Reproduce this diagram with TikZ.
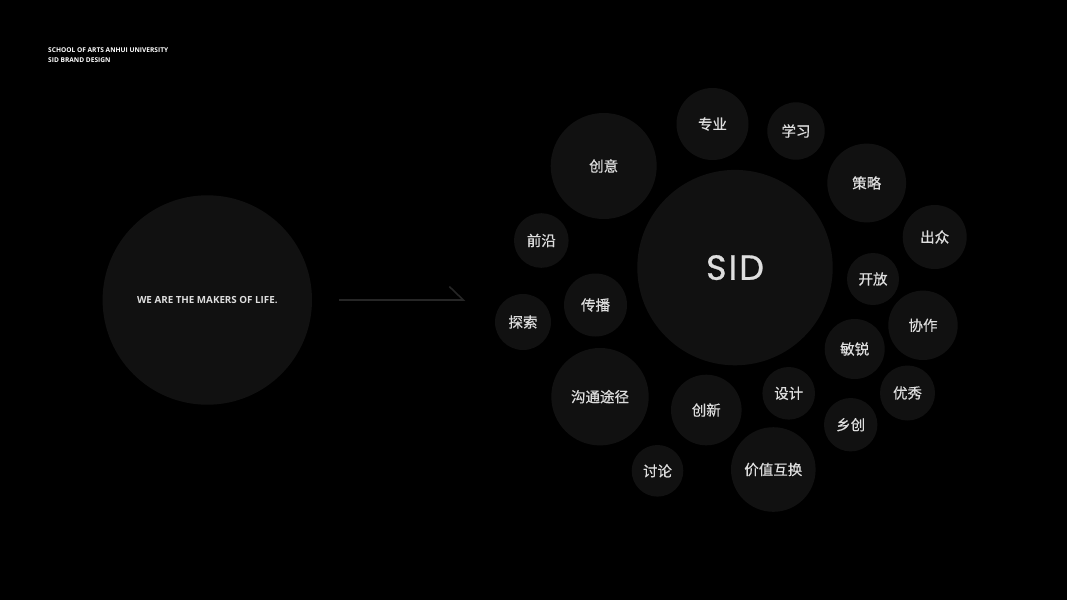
\documentclass[tikz,border=0pt]{standalone}
\usepackage{fontspec}
\setmainfont{Open Sans}
\newfontfamily\cjk[FakeBold=0.5]{Noto Sans CJK SC}
\newfontfamily\geo[FakeBold=0.8]{Poppins}
\usepackage{xcolor}
\definecolor{bubblegray}{RGB}{17,17,17}
\definecolor{labelgray}{RGB}{222,222,222}
\definecolor{arrowgray}{RGB}{38,38,38}
\usepackage{tikz}

\begin{document}
\begin{tikzpicture}[x=1pt, y=-1pt,
  bubble/.style={circle, fill=bubblegray, inner sep=0pt, outer sep=0pt,
    text=labelgray, font=\cjk\fontsize{14.5}{14.5}\selectfont}]
  \fill[black] (0,0) rectangle (1067,600);
  \useasboundingbox (0,0) rectangle (1067,600);
  % header
  \node[anchor=base west, inner sep=0pt, text=white, font=\bfseries\fontsize{6.6}{6.6}\selectfont] (school) at (48,52.3) {SCHOOL OF ARTS ANHUI UNIVERSITY};
  \node[anchor=base west, inner sep=0pt, text=white, font=\bfseries\fontsize{6.6}{6.6}\selectfont] (brand) at (48,62.3) {SID BRAND DESIGN};
  % left circle
  \node[bubble, minimum size=209.4pt, font=\bfseries\fontsize{9.8}{9.8}\selectfont] (makers) at (207.3,300) {WE ARE THE MAKERS OF LIFE.};
  % centre
  \node[bubble, minimum size=195.4pt, font=\geo\fontsize{35}{35}\selectfont] (sid) at (735,267.6) {S\kern2pt I\kern2pt D};
  % small bubbles
  \foreach \x/\y/\r/\t [count=\i] in {
    603.7/166/53/创意, 712.5/124/36/专业, 796/131/28.7/学习,
    866.7/183/39.4/策略, 934.7/237/32/出众, 873/279/26/开放,
    923/325.3/34.7/协作, 854.7/349/30/敏锐, 907.5/393/27.5/优秀,
    850.7/424.7/26.7/乡创, 788.7/393.3/26.3/设计, 773.3/469.5/42.3/价值互换,
    706.3/410/35.3/创新, 657.5/470.8/25.8/讨论, 600/396.7/48.7/沟通途径,
    595.5/305/31.5/传播, 523/322/28/探索, 541.3/240.5/27.3/前沿} {
    \node[bubble, minimum size=2*\r pt] (b\i) at (\x,\y) {\t};
  }
  % arrow
  \coordinate (arrS) at (339,300);
  \coordinate (arrE) at (463.3,300);
  \draw[arrowgray, line width=1.6pt] (arrS) -- (arrE) -- ++(-14,-13.5);
\end{tikzpicture}
\end{document}
